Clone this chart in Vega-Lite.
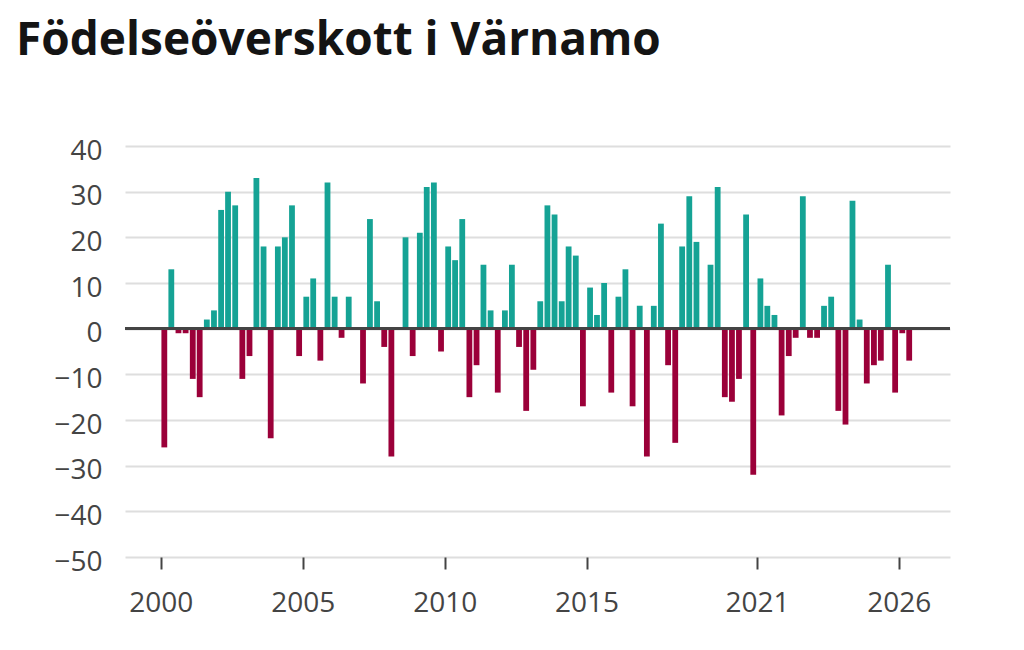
{
  "$schema": "https://vega.github.io/schema/vega-lite/v6.json",
  "width": 825,
  "height": 411,
  "autosize": {"type": "none"},
  "padding": {"left": 125, "top": 146, "right": 74, "bottom": 93},
  "background": "white",
  "title": {
    "text": "Födelseöverskott i Värnamo",
    "anchor": "start",
    "frame": "group",
    "dx": -109,
    "offset": 72,
    "font": "Open Sans",
    "fontSize": 46,
    "fontWeight": "bold",
    "color": "#141414"
  },
  "data": {
    "values": [
      {"d": "2000-02-15", "v": -26}, {"d": "2000-05-15", "v": 13}, {"d": "2000-08-15", "v": -1}, {"d": "2000-11-15", "v": -1},
      {"d": "2001-02-15", "v": -11}, {"d": "2001-05-15", "v": -15}, {"d": "2001-08-15", "v": 2}, {"d": "2001-11-15", "v": 4},
      {"d": "2002-02-15", "v": 26}, {"d": "2002-05-15", "v": 30}, {"d": "2002-08-15", "v": 27}, {"d": "2002-11-15", "v": -11},
      {"d": "2003-02-15", "v": -6}, {"d": "2003-05-15", "v": 33}, {"d": "2003-08-15", "v": 18}, {"d": "2003-11-15", "v": -24},
      {"d": "2004-02-15", "v": 18}, {"d": "2004-05-15", "v": 20}, {"d": "2004-08-15", "v": 27}, {"d": "2004-11-15", "v": -6},
      {"d": "2005-02-15", "v": 7}, {"d": "2005-05-15", "v": 11}, {"d": "2005-08-15", "v": -7}, {"d": "2005-11-15", "v": 32},
      {"d": "2006-02-15", "v": 7}, {"d": "2006-05-15", "v": -2}, {"d": "2006-08-15", "v": 7}, {"d": "2006-11-15", "v": 0},
      {"d": "2007-02-15", "v": -12}, {"d": "2007-05-15", "v": 24}, {"d": "2007-08-15", "v": 6}, {"d": "2007-11-15", "v": -4},
      {"d": "2008-02-15", "v": -28}, {"d": "2008-05-15", "v": 0}, {"d": "2008-08-15", "v": 20}, {"d": "2008-11-15", "v": -6},
      {"d": "2009-02-15", "v": 21}, {"d": "2009-05-15", "v": 31}, {"d": "2009-08-15", "v": 32}, {"d": "2009-11-15", "v": -5},
      {"d": "2010-02-15", "v": 18}, {"d": "2010-05-15", "v": 15}, {"d": "2010-08-15", "v": 24}, {"d": "2010-11-15", "v": -15},
      {"d": "2011-02-15", "v": -8}, {"d": "2011-05-15", "v": 14}, {"d": "2011-08-15", "v": 4}, {"d": "2011-11-15", "v": -14},
      {"d": "2012-02-15", "v": 4}, {"d": "2012-05-15", "v": 14}, {"d": "2012-08-15", "v": -4}, {"d": "2012-11-15", "v": -18},
      {"d": "2013-02-15", "v": -9}, {"d": "2013-05-15", "v": 6}, {"d": "2013-08-15", "v": 27}, {"d": "2013-11-15", "v": 25},
      {"d": "2014-02-15", "v": 6}, {"d": "2014-05-15", "v": 18}, {"d": "2014-08-15", "v": 16}, {"d": "2014-11-15", "v": -17},
      {"d": "2015-02-15", "v": 9}, {"d": "2015-05-15", "v": 3}, {"d": "2015-08-15", "v": 10}, {"d": "2015-11-15", "v": -14},
      {"d": "2016-02-15", "v": 7}, {"d": "2016-05-15", "v": 13}, {"d": "2016-08-15", "v": -17}, {"d": "2016-11-15", "v": 5},
      {"d": "2017-02-15", "v": -28}, {"d": "2017-05-15", "v": 5}, {"d": "2017-08-15", "v": 23}, {"d": "2017-11-15", "v": -8},
      {"d": "2018-02-15", "v": -25}, {"d": "2018-05-15", "v": 18}, {"d": "2018-08-15", "v": 29}, {"d": "2018-11-15", "v": 19},
      {"d": "2019-02-15", "v": 0}, {"d": "2019-05-15", "v": 14}, {"d": "2019-08-15", "v": 31}, {"d": "2019-11-15", "v": -15},
      {"d": "2020-02-15", "v": -16}, {"d": "2020-05-15", "v": -11}, {"d": "2020-08-15", "v": 25}, {"d": "2020-11-15", "v": -32},
      {"d": "2021-02-15", "v": 11}, {"d": "2021-05-15", "v": 5}, {"d": "2021-08-15", "v": 3}, {"d": "2021-11-15", "v": -19},
      {"d": "2022-02-15", "v": -6}, {"d": "2022-05-15", "v": -2}, {"d": "2022-08-15", "v": 29}, {"d": "2022-11-15", "v": -2},
      {"d": "2023-02-15", "v": -2}, {"d": "2023-05-15", "v": 5}, {"d": "2023-08-15", "v": 7}, {"d": "2023-11-15", "v": -18},
      {"d": "2024-02-15", "v": -21}, {"d": "2024-05-15", "v": 28}, {"d": "2024-08-15", "v": 2}, {"d": "2024-11-15", "v": -12},
      {"d": "2025-02-15", "v": -8}, {"d": "2025-05-15", "v": -7}, {"d": "2025-08-15", "v": 14}, {"d": "2025-11-15", "v": -14},
      {"d": "2026-02-15", "v": -1}, {"d": "2026-05-15", "v": -7}
    ]
  },
  "layer": [
    {
      "mark": {"type": "bar", "width": 5.8},
      "encoding": {
        "x": {
          "field": "d",
          "type": "temporal",
          "scale": {
            "type": "utc",
            "nice": false,
            "padding": 0,
            "domain": [
              {"year": 1998, "month": 9, "date": 27, "utc": true},
              {"year": 2027, "month": 10, "date": 22, "utc": true}
            ]
          },
          "axis": {
            "title": null,
            "values": [
              {"year": 2000, "utc": true},
              {"year": 2005, "utc": true},
              {"year": 2010, "utc": true},
              {"year": 2015, "utc": true},
              {"year": 2021, "utc": true},
              {"year": 2026, "utc": true}
            ],
            "format": "%Y",
            "labelAngle": 0,
            "domain": false,
            "grid": false,
            "ticks": true,
            "tickSize": 12,
            "tickWidth": 2,
            "tickColor": "#444444",
            "labelFont": "Open Sans",
            "labelFontSize": 28,
            "labelColor": "#444444",
            "labelPadding": 20
          }
        },
        "y": {
          "field": "v",
          "type": "quantitative",
          "scale": {"domain": [-50, 40], "nice": false},
          "axis": {
            "title": null,
            "values": [-50, -40, -30, -20, -10, 0, 10, 20, 30, 40],
            "domain": false,
            "ticks": false,
            "grid": true,
            "gridColor": "#dedede",
            "gridWidth": 2,
            "labelFont": "Open Sans",
            "labelFontSize": 28,
            "labelColor": "#444444",
            "labelPadding": 23,
            "labelOffset": 5
          }
        },
        "color": {
          "condition": {"test": "datum.v >= 0", "value": "#15a395"},
          "value": "#9b0039"
        }
      }
    },
    {
      "mark": {"type": "rule", "color": "#444444", "strokeWidth": 2.5},
      "encoding": {
        "y": {"datum": 0}
      }
    }
  ],
  "config": {
    "view": {"stroke": null}
  }
}
